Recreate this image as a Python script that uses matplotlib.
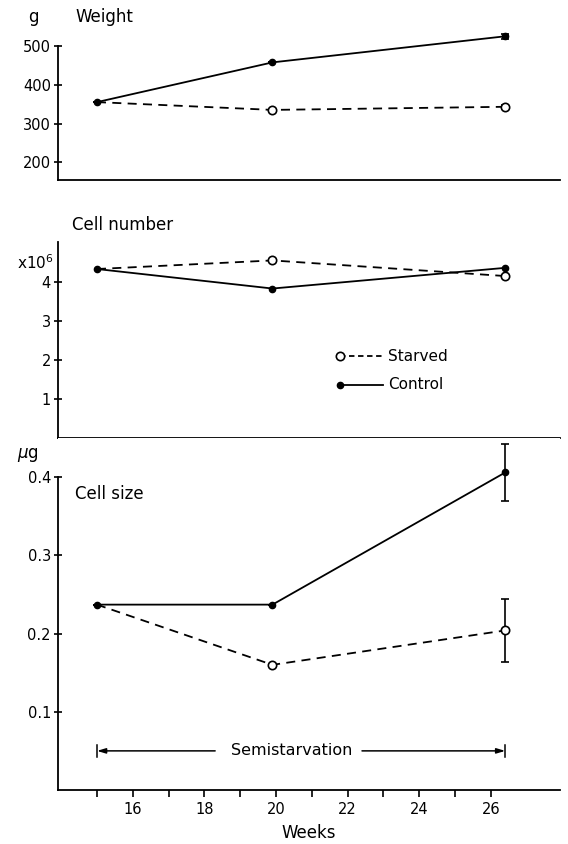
import matplotlib
matplotlib.use("Agg")
import matplotlib.pyplot as plt

plt.rcParams['font.family'] = ['DejaVu Sans']

weeks = [15, 19.9, 26.4]

weight_control = [355, 457, 524]
weight_control_err = [0, 0, 7]
weight_starved = [355, 335, 343]
weight_starved_err = [0, 0, 5]

cells_control = [4.33, 3.83, 4.36]
cells_starved = [4.33, 4.55, 4.15]

size_control = [0.237, 0.237, 0.406]
size_control_err = [0, 0, 0.036]
size_starved = [0.237, 0.160, 0.204]
size_starved_err = [0, 0, 0.040]

weight_ticks = [200, 300, 400, 500]
cells_ticks = [1, 2, 3, 4]
size_ticks = [0.1, 0.2, 0.3, 0.4]
week_ticks_minor = list(range(15, 27))
week_ticks_major = [16, 18, 20, 22, 24, 26]

fig = plt.figure(figsize=(5.68, 8.44), dpi=100)
L, W = 0.102, 0.884
ax1 = fig.add_axes([L, 0.7867, W, 0.1777])
ax2 = fig.add_axes([L, 0.481, W, 0.2405])
ax3 = fig.add_axes([L, 0.064, W, 0.417])

xlim = (13.91, 27.93)
fs = 10.5
lw = 1.3

def style(ax, ylim, yticks, ytl, bound):
    ax.set_xlim(*xlim)
    ax.set_ylim(*ylim)
    for s in ['top', 'right']:
        ax.spines[s].set_visible(False)
    ax.spines['left'].set_bounds(*bound)
    ax.spines['left'].set_linewidth(1.3)
    ax.spines['bottom'].set_linewidth(1.3)
    ax.set_yticks(yticks)
    ax.set_yticklabels(ytl, fontsize=fs)
    ax.tick_params(axis='y', direction='inout', length=6, width=1.2, pad=2)

def draw(ax, yc, ys, ec=None, es=None):
    ax.errorbar(weeks, ys, yerr=es, color='black', lw=lw, ls=(0, (5, 3.5)),
                marker='o', mfc='white', mec='black', ms=6, mew=1.2, markevery=[1, 2],
                capsize=3, elinewidth=1.2, capthick=1.2)
    ax.errorbar(weeks, yc, yerr=ec, color='black', lw=lw, ls='-',
                marker='o', mfc='black', mec='black', ms=4.5,
                capsize=3, elinewidth=1.2, capthick=1.2)

# Weight
style(ax1, (155, 540), weight_ticks, [str(t) for t in weight_ticks], (155, 500))
ax1.set_xticks([])
draw(ax1, weight_control, weight_starved, weight_control_err, weight_starved_err)
fig.text(33/568, 1-17/844, 'g', fontsize=12, ha='center', va='center')
fig.text(75/568, 1-17/844, 'Weight', fontsize=12, ha='left', va='center')

# Cell number
style(ax2, (0, 5.2), cells_ticks, [str(t) for t in cells_ticks], (0, 5.03))
ax2.set_xticks([])
draw(ax2, cells_control, cells_starved)
fig.text(72/568, 1-225/844, 'Cell number', fontsize=12, ha='left', va='center')
fig.text(35/568, 1-263/844, r'x10$^6$', fontsize=11, ha='center', va='center')
# legend
lx0, lx1, ltx = 21.79, 22.99, 23.12
ly_s, ly_c = 2.09, 1.37
ax2.plot([lx0, lx1], [ly_s, ly_s], color='black', lw=lw, ls=(0, (3, 2)))
ax2.plot([lx0], [ly_s], marker='o', mfc='white', mec='black', ms=6, mew=1.2)
ax2.plot([lx0, lx1], [ly_c, ly_c], color='black', lw=lw)
ax2.plot([lx0], [ly_c], marker='o', mfc='black', mec='black', ms=4.5)
ax2.text(ltx, ly_s, 'Starved', fontsize=11, ha='left', va='center')
ax2.text(ltx, ly_c, 'Control', fontsize=11, ha='left', va='center')

# Cell size
style(ax3, (0, 0.45), size_ticks, ['0.1', '0.2', '0.3', '0.4'], (0, 0.4))
ax3.set_xticks(week_ticks_minor, minor=True)
ax3.set_xticks(week_ticks_major)
ax3.set_xticklabels([str(t) for t in week_ticks_major], fontsize=fs)
ax3.tick_params(axis='x', which='both', direction='out', length=5, width=1.2)
draw(ax3, size_control, size_starved, size_control_err, size_starved_err)
ax3.text(14.4, 0.379, 'Cell size', fontsize=12, ha='left', va='center')
fig.text(28/568, 1-455/844, r'$\mu$g', fontsize=12, ha='center', va='center')
ax3.set_xlabel('Weeks', fontsize=12, labelpad=5)

# Semistarvation arrow
arrow_y = 0.05
aprops = dict(arrowstyle='-|>,head_length=0.5,head_width=0.15', color='black', lw=1.1,
              shrinkA=0, shrinkB=0)
ax3.annotate('', xy=(weeks[0], arrow_y), xytext=(18.3, arrow_y), arrowprops=aprops)
ax3.annotate('', xy=(weeks[-1], arrow_y), xytext=(22.4, arrow_y), arrowprops=aprops)
ax3.plot([weeks[0], weeks[0]], [arrow_y - 0.008, arrow_y + 0.008], color='black', lw=1.1)
ax3.plot([weeks[-1], weeks[-1]], [arrow_y - 0.008, arrow_y + 0.008], color='black', lw=1.1)
ax3.text(20.45, arrow_y, 'Semistarvation', fontsize=11.5, ha='center', va='center')

fig.savefig('out.png', dpi=100)
